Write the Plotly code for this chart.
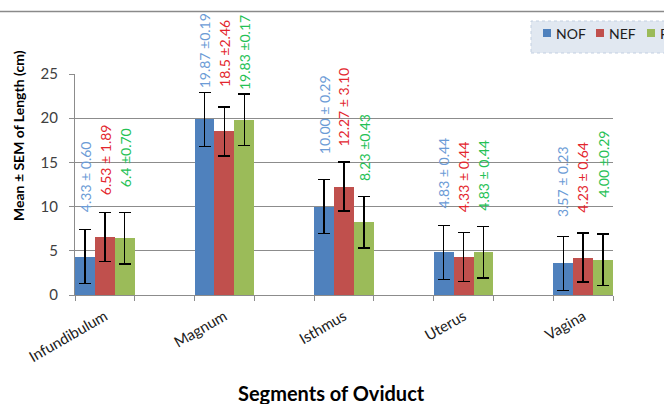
import plotly.graph_objects as go

# ---------------- data ----------------
segments = ["Infundibulum", "Magnum", "Isthmus", "Uterus", "Vagina"]
# Excel-style layout: an empty slot between each segment
axis_slots = ["Infundibulum", " ", "Magnum", "  ", "Isthmus", "   ", "Uterus", "    ", "Vagina"]

series_names = ["NOF", "NEF", "FOF"]
nof_mean = [4.33, 19.87, 10.00, 4.83, 3.57]
nef_mean = [6.53, 18.50, 12.27, 4.33, 4.23]
fof_mean = [6.40, 19.83, 8.23, 4.83, 4.00]

# error bar half-lengths as drawn in the chart (constant per series)
nof_err = [3.05, 3.05, 3.05, 3.05, 3.05]
nef_err = [2.77, 2.77, 2.77, 2.77, 2.77]
fof_err = [2.90, 2.90, 2.90, 2.90, 2.90]

nof_labels = ["4.33 ± 0.60", "19.87 ±0.19", "10.00 ± 0.29", "4.83 ± 0.44", "3.57 ± 0.23"]
nef_labels = ["6.53 ± 1.89", "18.5 ±2.46", "12.27 ± 3.10", "4.33 ± 0.44", "4.23 ± 0.64"]
fof_labels = ["6.4 ±0.70", "19.83 ±0.17", "8.23 ±0.43", "4.83 ± 0.44", "4.00 ±0.29"]

y_ticks = [0, 5, 10, 15, 20, 25]

# ---------------- styling ----------------
bar_colors = ["#4f81bd", "#c0504d", "#9bbb59"]
label_colors = ["#6b9bd6", "#e3262e", "#24c154"]
label_lift_px = [
    [16, 2, 23, 15, 17],
    [16, 18, 13, 18, 18],
    [24, 2, 13, 14, 34],
]
group_shift_px = [-20, 0, 20]
FONT = "Lato, 'Liberation Sans', sans-serif"
GRID = "#8c8c8c"

L, T, PW, PH = 75, 74, 538, 221  # plot area in pixels


def px(xp):
    return (xp - L) / PW


def py(yp):
    return (T + PH - yp) / PH


means = [nof_mean, nef_mean, fof_mean]
errs = [nof_err, nef_err, fof_err]
labels = [nof_labels, nef_labels, fof_labels]

fig = go.Figure()

# invisible helper trace so all axis slots exist on the category axis
fig.add_trace(go.Scatter(x=axis_slots, y=[None] * len(axis_slots), mode="markers",
                         showlegend=False, hoverinfo="skip"))

for i in range(3):
    fig.add_trace(go.Bar(
        x=segments, y=means[i], name=series_names[i],
        marker=dict(color=bar_colors[i], line=dict(width=0)),
        error_y=dict(type="data", array=errs[i], visible=True,
                     color="black", thickness=1.3, width=6),
        showlegend=False,
    ))

annotations = []
for i in range(3):
    for j, seg in enumerate(segments):
        annotations.append(dict(
            x=seg, y=means[i][j] + errs[i][j], xref="x", yref="y",
            text=labels[i][j], textangle=-90, showarrow=False,
            xanchor="center", yanchor="bottom",
            xshift=group_shift_px[i], yshift=label_lift_px[i][j],
            font=dict(family=FONT, size=14, color=label_colors[i]),
        ))

# axis titles
annotations.append(dict(
    x=px(18), y=py(136), xref="paper", yref="paper",
    text="<b>Mean ± SEM of Length (cm)</b>", textangle=-90, showarrow=False,
    xanchor="center", yanchor="middle",
    font=dict(family=FONT, size=14, color="black"),
))
annotations.append(dict(
    x=px(331), y=py(393), xref="paper", yref="paper",
    text="<b>Segments of Oviduct</b>", showarrow=False,
    xanchor="center", yanchor="middle",
    font=dict(family=FONT, size=20, color="black"),
))

# legend (drawn as a box with swatches, cut at the right edge like the original)
shapes = [
    dict(type="line", xref="paper", yref="paper", x0=px(0), x1=px(664),
         y0=py(11.5), y1=py(11.5), line=dict(color="#8a8a8a", width=1.5)),
    dict(type="rect", xref="paper", yref="paper", x0=px(531), x1=px(672),
         y0=py(53), y1=py(21), fillcolor="#e1e8f1",
         line=dict(color="#c3d0e2", width=1, dash="dot")),
]
legend_x = [543, 596, 647]
for i in range(3):
    shapes.append(dict(type="rect", xref="paper", yref="paper",
                       x0=px(legend_x[i]), x1=px(legend_x[i] + 8),
                       y0=py(37), y1=py(29), fillcolor=bar_colors[i],
                       line=dict(width=0)))
    annotations.append(dict(
        x=px(legend_x[i] + 11), y=py(33), xref="paper", yref="paper",
        text=series_names[i], showarrow=False, xanchor="left", yanchor="middle",
        font=dict(family=FONT, size=14, color="#202020"),
    ))

fig.update_layout(
    width=664, height=404,
    margin=dict(l=L, r=664 - L - PW, t=T, b=404 - T - PH, autoexpand=False),
    paper_bgcolor="white", plot_bgcolor="white",
    barmode="group", bargap=0, bargroupgap=0,
    font=dict(family=FONT, size=14, color="#404040"),
    annotations=annotations,
    shapes=shapes,
    showlegend=False,
    hovermode=False,
)

fig.update_xaxes(
    type="category", categoryorder="array", categoryarray=axis_slots,
    range=[-0.5, len(axis_slots) - 0.5],
    tickson="boundaries", ticks="outside", ticklen=5, tickcolor=GRID,
    showline=True, linecolor=GRID, linewidth=1,
    tickangle=-30, tickfont=dict(family=FONT, size=15, color="#202020"),
    ticklabelstandoff=6,
    showgrid=False, zeroline=False,
)
fig.update_yaxes(
    range=[0, 25], tickvals=y_ticks, ticks="outside", ticklen=5, tickcolor=GRID,
    showline=True, linecolor=GRID, linewidth=1,
    showgrid=True, gridcolor=GRID, gridwidth=1, zeroline=False,
    tickfont=dict(family=FONT, size=15, color="#404040"),
    ticklabelstandoff=8,
)

fig.write_html("out.html", config={"displayModeBar": False},
               post_script="document.body.style.margin='0';")
